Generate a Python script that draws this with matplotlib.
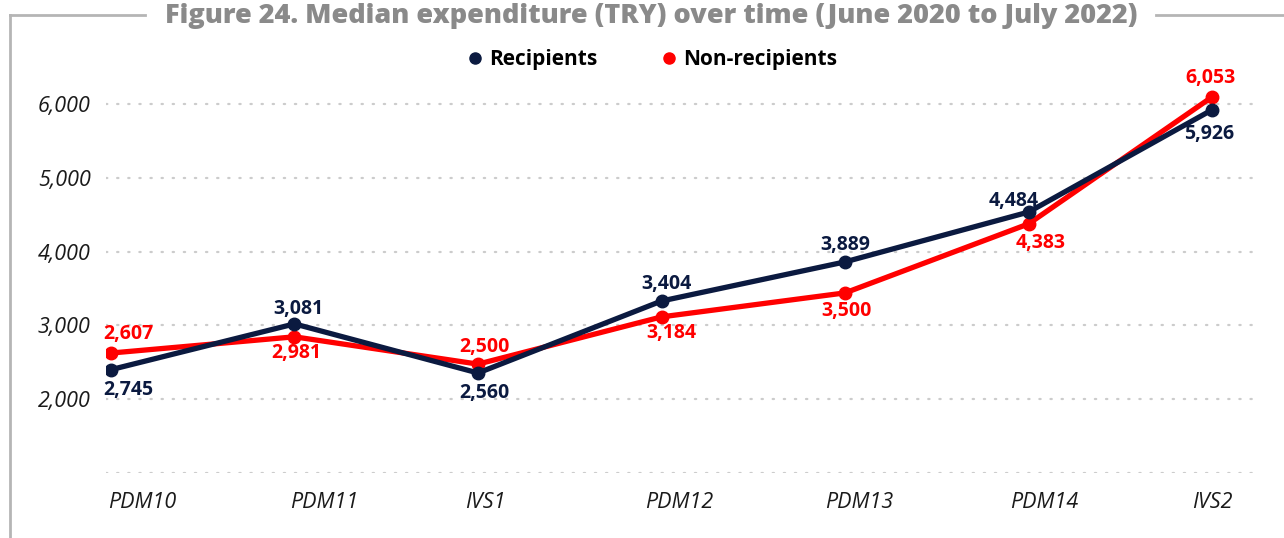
import matplotlib
matplotlib.use('Agg')
import matplotlib.pyplot as plt
from matplotlib.lines import Line2D

#---------------------------------------------------------------------------------
# DATA

periods = ['PDM10', 'PDM11', 'IVS1', 'PDM12', 'PDM13', 'PDM14', 'IVS2']
series_names = ['Recipients', 'Non-recipients']

# level at which each point is drawn in the original
recipients = [2400, 3020, 2355, 3330, 3860, 4535, 5920]
nonrecipients = [2625, 2845, 2475, 3115, 3440, 4375, 6095]

# value printed next to each point
recipients_lbl = [2745, 3081, 2560, 3404, 3889, 4484, 5926]
nonrecipients_lbl = [2607, 2981, 2500, 3184, 3500, 4383, 6053]

y_ticks = [1000, 2000, 3000, 4000, 5000, 6000]
title = 'Figure 24. Median expenditure (TRY) over time (June 2020 to July 2022)'

#---------------------------------------------------------------------------------
# STYLE

NAVY = '#0b1a40'
RED = '#ff0000'
W, H = 1284, 538

# label offsets in pixels (dx, dy), dy positive upwards
navy_off = [(17, -20), (4, 15), (6, -20), (5, 17), (0, 17), (-15, 11), (-3, -24)]
red_off = [(17, 19), (2, -16), (6, 17), (10, -16), (1, -18), (12, -19), (-2, 19)]
xlab_dx = [31, 30, 7, 18, 14, 16, 0]

fig = plt.figure(figsize=(W / 100, H / 100), dpi=100)
ax = fig.add_axes([106 / W, 65 / H, 1152 / W, 406 / H])

x = list(range(len(periods)))
ax.plot(x, recipients, color=NAVY, lw=3.8, marker='o', ms=9, zorder=4,
        solid_capstyle='round')
ax.plot(x, nonrecipients, color=RED, lw=3.8, marker='o', ms=9, zorder=3,
        solid_capstyle='round')

lbl_font = dict(family=['Open Sans', 'DejaVu Sans'], fontweight='bold', fontsize=14)
for i in x:
    ax.annotate(f'{recipients_lbl[i]:,}', (i, recipients[i]), xytext=navy_off[i],
                textcoords='offset pixels', ha='center', va='center',
                color=NAVY, **lbl_font)
    ax.annotate(f'{nonrecipients_lbl[i]:,}', (i, nonrecipients[i]), xytext=red_off[i],
                textcoords='offset pixels', ha='center', va='center',
                color=RED, **lbl_font)

# x labels, drawn as text to keep their uneven placement
for i, p in enumerate(periods):
    ax.annotate(p, (i, 0), xycoords=ax.get_xaxis_transform(),
                xytext=(xlab_dx[i], -29), textcoords='offset pixels',
                ha='center', va='center', fontsize=15.5, fontstyle='italic',
                family=['Open Sans', 'DejaVu Sans'], color='#1a1a1a')

ax.set_xlim(-0.027, 6.25)
ax.set_ylim(1000, 6500)
ax.set_xticks([])
ax.set_yticks(y_ticks)
ax.set_yticklabels(['' if v == 1000 else f'{v:,}' for v in y_ticks],
                   fontsize=15.5, fontstyle='italic', family=['Open Sans', 'DejaVu Sans'],
                   color='#1a1a1a')
ax.tick_params(axis='y', length=0, pad=11)
ax.grid(axis='y', color='#cccccc', lw=1.6, linestyle=(0, (0.6, 4.4)),
        dash_capstyle='round')
for s in ax.spines.values():
    s.set_visible(False)

# legend
handles = [Line2D([], [], color=c, marker='o', ls='none', ms=8) for c in (NAVY, RED)]
fig.legend(handles, series_names, loc='center', bbox_to_anchor=(652 / W, 1 - 60 / H),
           ncol=2, frameon=False, handlelength=0.8, handletextpad=0.3,
           columnspacing=3.0, prop=dict(family='Open Sans', weight='bold', size=15))

# title and frame
fig.text(651 / W, 1 - 16 / H, title, ha='center', va='center', color='#8a8a8a',
         fontsize=19.5, fontweight=800, family=['Open Sans', 'DejaVu Sans'])
frame = dict(color='#b5b5b5', lw=2, transform=fig.transFigure)
fig.add_artist(Line2D([10 / W, 10 / W], [0, 1 - 15 / H], **frame))
fig.add_artist(Line2D([10 / W, 145 / W], [1 - 15 / H, 1 - 15 / H], **frame))
fig.add_artist(Line2D([1156 / W, 1], [1 - 15 / H, 1 - 15 / H], **frame))

fig.savefig('out.png', dpi=100)
